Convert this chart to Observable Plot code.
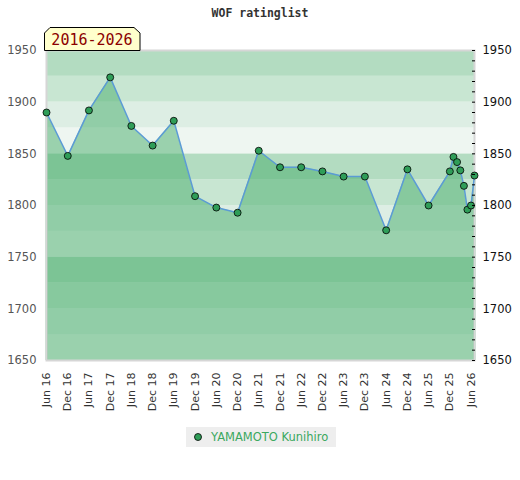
<!DOCTYPE html>
<html><head><meta charset="utf-8">
<script src="https://cdn.jsdelivr.net/npm/d3@7"></script>
<script src="https://cdn.jsdelivr.net/npm/@observablehq/plot@0.6"></script>
<style>
body{margin:0;background:#fff;font-family:"DejaVu Sans",sans-serif;}
#wrap{position:relative;width:520px;height:480px;}
#title{position:absolute;left:0;top:6px;width:520px;text-align:center;font:bold 11.5px "DejaVu Sans Mono",monospace;color:#333;}
#period{position:absolute;left:44px;top:27px;}
#legend{position:absolute;left:186px;top:427px;width:150px;height:20px;background:#eeeeee;display:flex;align-items:center;}
#legend span{font:11.5px "DejaVu Sans",sans-serif;color:#3aa85e;margin-left:5px;}
#chart{position:absolute;left:0;top:0;}
</style></head>
<body>
<div id="wrap">
  <div id="chart"></div>
  <div id="title">WOF ratinglist</div>
  <svg id="period" width="98" height="25">
    <polygon points="0.5,23.5 0.5,6 6,0.5 90,0.5 96,6 96,23.5" fill="#ffffcc" stroke="#000" stroke-width="1"/>
    <text x="48" y="18" text-anchor="middle" font-family="DejaVu Sans Mono" font-size="15" fill="#8b0000">2016-2026</text>
  </svg>
  <div id="legend">
    <svg width="16" height="20" style="margin-left:4px"><circle cx="8" cy="10" r="3.5" fill="#2f9d58" stroke="#000" stroke-width="0.8"/></svg>
    <span>YAMAMOTO Kunihiro</span>
  </div>
</div>
<script>
const dates = ["2016-06","2016-12","2017-06","2017-12","2018-06","2018-12","2019-06","2019-12","2020-06","2020-12",
  "2021-06","2021-12","2022-06","2022-12","2023-06","2023-12","2024-06","2024-12","2025-06",
  "2025-12","2026-01","2026-02","2026-03","2026-04","2026-05","2026-06","2026-07"];
const ratings = [1890,1848,1892,1924,1877,1858,1882,1809,1798,1793,
  1853,1837,1837,1833,1828,1828,1776,1835,1800,
  1833,1847,1842,1834,1819,1796,1800,1829];
const tickLabels = ["Jun 16","Dec 16","Jun 17","Dec 17","Jun 18","Dec 18","Jun 19","Dec 19","Jun 20","Dec 20",
  "Jun 21","Dec 21","Jun 22","Dec 22","Jun 23","Dec 23","Jun 24","Dec 24","Jun 25","Dec 25","Jun 26"];
const yTicks = [1650,1700,1750,1800,1850,1900,1950];
const bandShades = ["#eef6f1","#ddeee4","#c8e6d2","#b3dcc1"];

const parseYM = d3.utcParse("%Y-%m");
const parseTick = d3.utcParse("%b %y");
const data = dates.map((d,i)=>({date: parseYM(d), rating: ratings[i]}));
const tickDates = tickLabels.map(parseTick);
const yMin = yTicks[0], yMax = yTicks[yTicks.length-1];
const x0 = data[0].date, x1 = data[data.length-1].date;
const bands = d3.range(yMin, yMax, 25).map((lo,i)=>({lo, hi: lo+25, shade: bandShades[i % bandShades.length]}));
const minorTicks = d3.range(yMin, yMax + 1, 10);
const edges = [data[0], data[data.length-1]];
const intFmt = d3.format("d");

const chart = Plot.plot({
  width: 520, height: 420,
  marginTop: 50, marginBottom: 60, marginLeft: 46, marginRight: 46,
  style: {fontFamily: "DejaVu Sans", fontSize: "11px", background: "transparent"},
  x: {type: "utc", domain: [x0, x1]},
  y: {domain: [yMin, yMax]},
  color: {type: "identity"},
  marks: [
    Plot.rectY(bands, {x1: x0, x2: x1, y1: "lo", y2: "hi", fill: "shade"}),
    Plot.areaY(data, {x: "date", y1: yMin, y2: "rating", fill: "#46ac69", fillOpacity: 0.5}),
    Plot.ruleX(edges, {x: "date", y1: yMin, y2: "rating", stroke: "#3d9a5c", strokeWidth: 1.5}),
    Plot.frame({stroke: "#d6d6d6", strokeWidth: 2}),
    Plot.line(data, {x: "date", y: "rating", stroke: "#5b9bd5", strokeWidth: 1.5}),
    Plot.dot(data, {x: "date", y: "rating", r: 3.5, fill: "#2f9d58", stroke: "#000", strokeWidth: 0.8}),
    Plot.axisY({anchor: "left", ticks: yTicks, tickFormat: intFmt, tickSize: 0, tickPadding: 10, fontSize: 11.5, color: "#555", label: null}),
    Plot.axisY({anchor: "right", ticks: yTicks, tickFormat: intFmt, tickSize: 0, tickPadding: 8, fontSize: 11.5, color: "#111", label: null}),
    Plot.axisY({anchor: "right", ticks: minorTicks, tickSize: 3, dx: -3, stroke: "#000", fill: "none", label: null}),
    Plot.axisX({ticks: tickDates, tickFormat: d3.utcFormat("%b %y"), tickRotate: -90, tickSize: 0, tickPadding: 12, fontSize: 11, color: "#333", label: null})
  ]
});
document.getElementById("chart").appendChild(chart);
</script>
</body></html>
